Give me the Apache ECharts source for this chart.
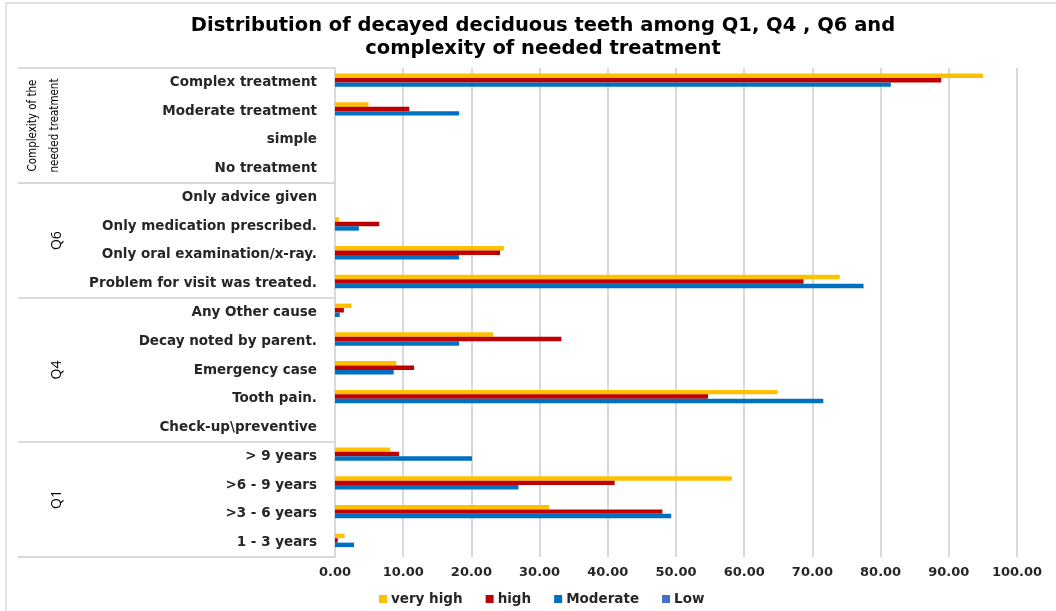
<!DOCTYPE html>
<html>
<head>
<meta charset="utf-8">
<script src="https://cdn.jsdelivr.net/npm/echarts@6/dist/echarts.min.js"></script>
<style>
  html, body { margin: 0; padding: 0; background: #fff; }
  #chart { width: 1056px; height: 611px; }
</style>
</head>
<body>
<div id="chart"></div>
<script>
// Categories listed bottom to top (category axis runs upward)
const categories = [
  '1 - 3 years', '>3 - 6 years', '>6 - 9 years', '> 9 years',
  'Check-up\\preventive', 'Tooth pain.', 'Emergency case', 'Decay noted by parent.', 'Any Other cause',
  'Problem for visit was treated.', 'Only oral examination/x-ray.', 'Only medication prescribed.', 'Only advice given',
  'No treatment', 'simple', 'Moderate treatment', 'Complex treatment'
];

// Question groups: [label, first category index, last category index]
const groups = [
  ['Q1', 0, 3],
  ['Q4', 4, 8],
  ['Q6', 9, 12],
  ['Complexity of the\nneeded treatment', 13, 16]
];

const veryHigh = [1.4, 31.4, 58.2, 8.1, 0, 64.9, 9.0, 23.2, 2.4, 74.0, 24.8, 0.6, 0, 0, 0, 4.9, 95.0];
const high     = [0.4, 48.0, 41.0, 9.4, 0, 54.7, 11.6, 33.2, 1.3, 68.7, 24.2, 6.5, 0, 0, 0, 10.9, 88.9];
const moderate = [2.8, 49.3, 26.9, 20.1, 0, 71.6, 8.6, 18.2, 0.7, 77.5, 18.2, 3.5, 0, 0, 0, 18.2, 81.5];
const low      = [0, 0, 0, 0, 0, 0, 0, 0, 0, 0, 0, 0, 0, 0, 0, 0, 0];

const xTicks = { min: 0, max: 100, interval: 10 };

const labelFont = 'DejaVu Sans';
const chart = echarts.init(document.getElementById('chart'));

function barSeries(name, data, color) {
  return {
    name: name,
    type: 'bar',
    data: data,
    barGap: '0%',
    barCategoryGap: '38%',
    itemStyle: { color: color },
    emphasis: { disabled: true }
  };
}

chart.setOption({
  animation: false,
  title: {
    text: 'Distribution of decayed deciduous teeth among Q1, Q4 , Q6 and\ncomplexity of needed treatment',
    left: 538,
    textAlign: 'center',
    top: 9,
    textStyle: {
      fontFamily: labelFont,
      fontWeight: 'bold',
      fontSize: 19.5,
      lineHeight: 23,
      color: '#000'
    }
  },
  legend: {
    left: 374,
    top: 587,
    itemWidth: 8,
    itemHeight: 8,
    itemGap: 23,
    icon: 'rect',
    data: ['very high', 'high', 'Moderate', 'Low'],
    textStyle: { fontFamily: labelFont, fontWeight: 'bold', fontSize: 13.5, color: '#262626', padding: [0, 0, 0, -1] }
  },
  grid: { left: 335, right: 39, top: 68, bottom: 54 },
  xAxis: {
    type: 'value',
    min: xTicks.min,
    max: xTicks.max,
    interval: xTicks.interval,
    axisLine: { show: false },
    axisTick: { show: false },
    axisLabel: {
      margin: 9,
      formatter: v => v.toFixed(2),
      fontFamily: labelFont,
      fontWeight: 'bold',
      fontSize: 13,
      color: '#262626'
    },
    splitLine: { lineStyle: { color: '#d9d9d9', width: 2 } }
  },
  yAxis: {
    type: 'category',
    data: categories,
    axisLine: { lineStyle: { color: '#d9d9d9', width: 2 } },
    axisTick: { show: false },
    axisLabel: {
      margin: 18,
      fontFamily: labelFont,
      fontWeight: 'bold',
      fontSize: 13.5,
      color: '#262626'
    }
  },
  series: [
    barSeries('very high', veryHigh, '#FFC000'),
    barSeries('high', high, '#C00000'),
    barSeries('Moderate', moderate, '#0070C0'),
    barSeries('Low', low, '#4472C4')
  ]
});

// Frame, group separators and rotated group labels, placed with the axis scale
function drawGroups() {
  const yPix = i => chart.convertToPixel({ yAxisIndex: 0 }, i);
  const step = yPix(0) - yPix(1);
  const axisX = chart.convertToPixel({ xAxisIndex: 0 }, 0);
  const sepStyle = { stroke: '#d9d9d9', lineWidth: 2 };
  const elements = [{
    type: 'rect',
    shape: { x: 6, y: 3, width: 1100, height: 700 },
    style: { fill: null, stroke: '#d9d9d9', lineWidth: 1.5 },
    silent: true
  }];
  const topEdge = yPix(categories.length - 1) - step / 2;
  elements.push({
    type: 'line',
    shape: { x1: 18, y1: topEdge, x2: axisX, y2: topEdge },
    style: sepStyle,
    silent: true
  });
  groups.forEach(([label, from, to]) => {
    const yBottom = yPix(from) + step / 2;
    elements.push({
      type: 'line',
      shape: { x1: 18, y1: yBottom, x2: axisX, y2: yBottom },
      style: sepStyle,
      silent: true
    });
    const mid = (yPix(from) + yPix(to)) / 2;
    const multi = label.indexOf('\n') >= 0;
    elements.push({
      type: 'text',
      x: multi ? 44 : 57,
      y: mid,
      rotation: Math.PI / 2,
      style: {
        text: label,
        fontFamily: multi ? 'DejaVu Sans Condensed, Liberation Sans Narrow, Liberation Sans' : 'Open Sans',
        fontSize: multi ? 11.5 : 14,
        lineHeight: multi ? 22 : 16,
        fill: '#000',
        align: 'center',
        verticalAlign: 'middle'
      },
      silent: true
    });
  });
  chart.setOption({ graphic: { elements: elements } });
}
drawGroups();
</script>
</body>
</html>
